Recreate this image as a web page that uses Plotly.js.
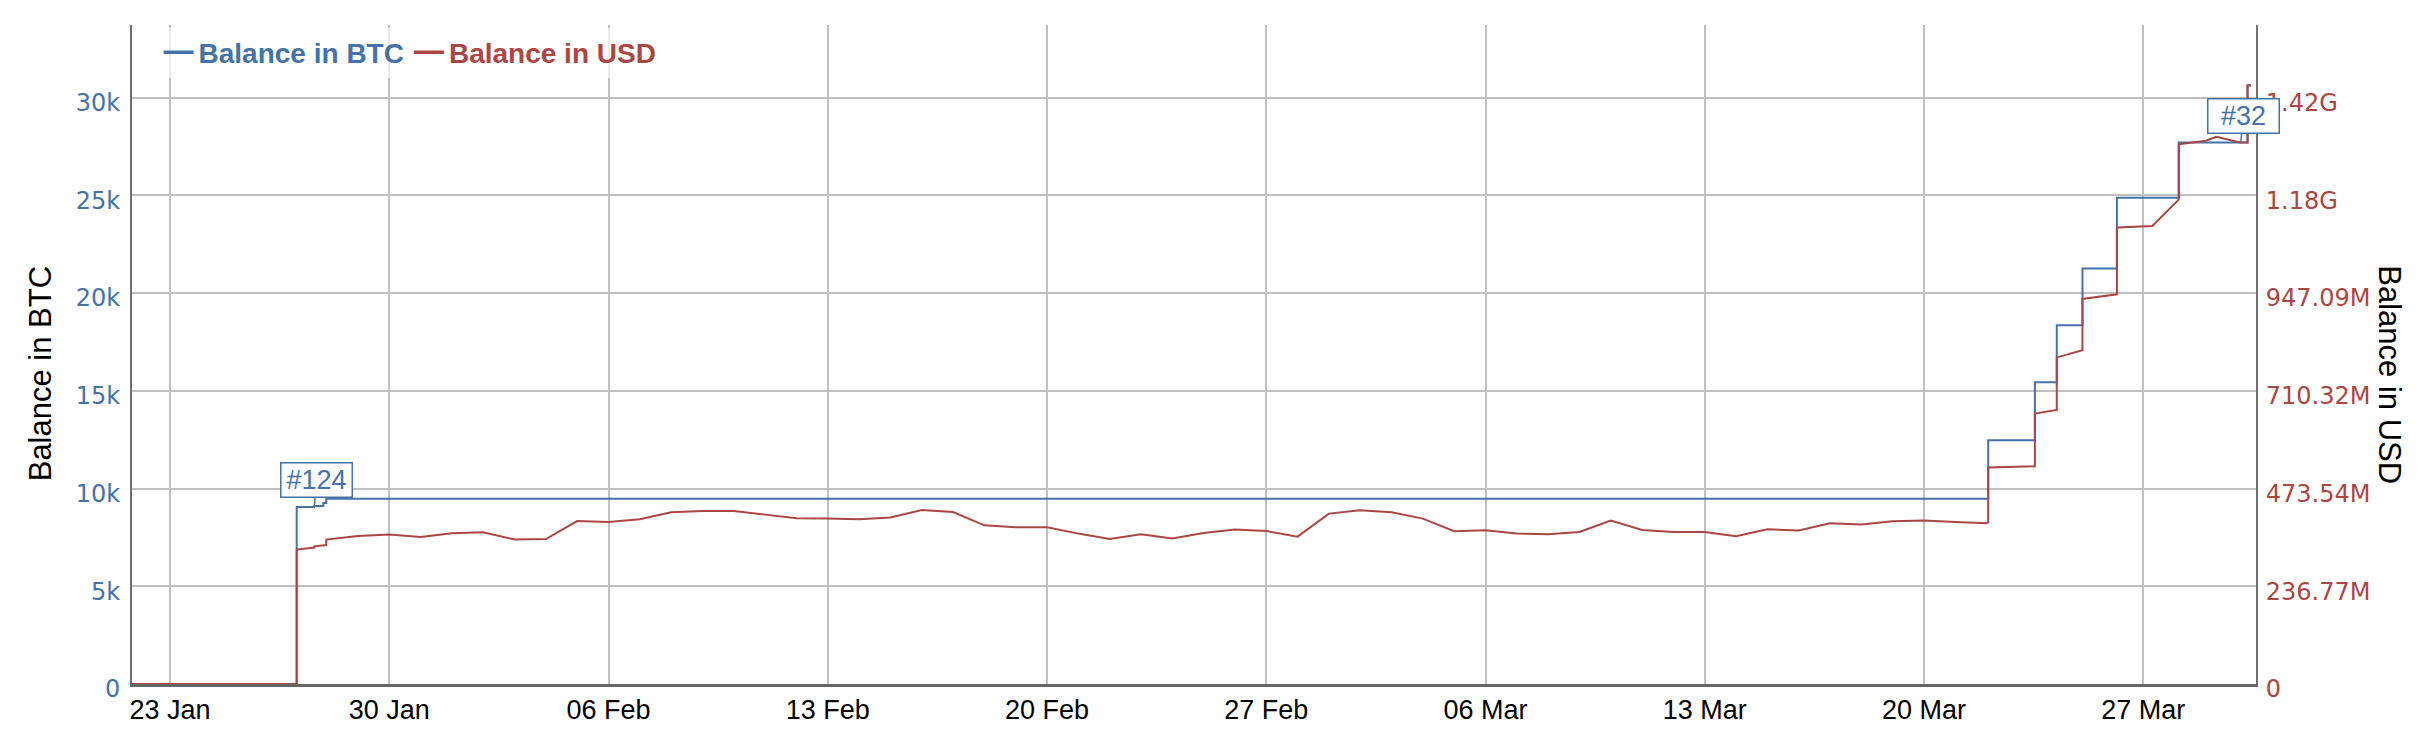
<!DOCTYPE html>
<html>
<head>
<meta charset="utf-8">
<script src="https://cdn.plot.ly/plotly-3.0.1.min.js"></script>
<style>html,body{margin:0;padding:0;background:#fff}#chart{width:2436px;height:736px}</style>
</head>
<body>
<div id="chart"></div>
<script>
// ---- data ----
const btcTime = ['2022-01-21 19:00','2022-01-27 01:05','2022-01-27 14:34','2022-01-27 21:29','2022-01-27 23:46',
  '2022-03-22 01:12','2022-03-23 12:58','2022-03-24 05:45','2022-03-25 01:26','2022-03-26 03:50',
  '2022-03-28 03:12','2022-03-30 07:55','2022-03-30 10:35'];
const btcBalance = [0, 9050, 9100, 9260, 9480, 12470, 15430, 18350, 21250, 24870, 27700, 30620, 30620];

const usdTime = ['2022-01-21 19:00','2022-01-27 01:05','2022-01-27 01:05','2022-01-27 14:34','2022-01-27 14:34',
  '2022-01-27 21:29','2022-01-27 23:46','2022-01-27 23:46','2022-01-29','2022-01-30','2022-01-31',
  '2022-02-01','2022-02-02','2022-02-03','2022-02-04','2022-02-05','2022-02-06','2022-02-07','2022-02-08',
  '2022-02-09','2022-02-10','2022-02-11','2022-02-12','2022-02-13','2022-02-14','2022-02-15','2022-02-16',
  '2022-02-17','2022-02-18','2022-02-19','2022-02-20','2022-02-21','2022-02-22','2022-02-23','2022-02-24',
  '2022-02-25','2022-02-26','2022-02-27','2022-02-28','2022-03-01','2022-03-02','2022-03-03','2022-03-04',
  '2022-03-05','2022-03-06','2022-03-07','2022-03-08','2022-03-09','2022-03-10','2022-03-11','2022-03-12',
  '2022-03-13','2022-03-14','2022-03-15','2022-03-16','2022-03-17','2022-03-18','2022-03-19','2022-03-20',
  '2022-03-21','2022-03-22 00:00','2022-03-22 01:12','2022-03-22 01:12','2022-03-23 12:58','2022-03-23 12:58',
  '2022-03-24 05:45','2022-03-24 05:45','2022-03-25 01:26','2022-03-25 01:26','2022-03-26 03:50','2022-03-26 03:50',
  '2022-03-27 06:58','2022-03-28 03:12','2022-03-28 03:12','2022-03-29 00:00','2022-03-29 08:00',
  '2022-03-30 02:10','2022-03-30 07:55','2022-03-30 07:55','2022-03-30 10:35'];
const usdBalanceM = [0,0,325.5,330.4,333.5,336.0,336.5,349.8,358.5,361.9,356.1,
  365.0,367.4,349.8,351.2,394.8,392.4,398.9,415.9,
  419.0,419.0,410.3,401.4,400.6,398.9,403.1,421.5,
  416.6,384.4,379.6,379.6,364.3,351.2,362.6,352.2,
  365.8,374.0,370.6,357.0,412.7,420.7,415.9,400.6,
  369.9,372.3,364.3,362.6,368.2,395.8,373.0,368.2,
  368.2,357.8,374.7,371.6,389.3,386.1,394.1,395.8,
  392.4,389.3,391.7,524.6,527.3,655.2,
  663.9,791.1,808.3,932.8,943.9,1106.0,
  1109.4,1173.3,1307.3,1316.0,1325.7,
  1311.9,1311.9,1450.2,1450.2];
const usdBalance = usdBalanceM.map(v => v * 1e6);

const usdTickVals = [0, 236.77e6, 473.54e6, 710.32e6, 947.09e6, 1183.86e6, 1420.63e6];
const usdTickText = ['0','236.77M','473.54M','710.32M','947.09M','1.18G','1.42G'];

const seriesNames = ['Balance in BTC', 'Balance in USD'];
const flagLabels = ['#124', '#32'];
const flagTime = ['2022-01-27 14:34', '2022-03-30 02:44'];
const flagBalance = [9100, 27700];

// ---- style ----
const BLUE = '#4572A7', RED = '#AA4643';
const btcMax = 33710, usdPerBtcAxis = 47354;
const SANS = 'Liberation Sans, Arial, sans-serif';
const legendName = (txt, c) => '<b><span style="color:' + c + '">' + txt + '</span></b>';

const traces = [
  {x: btcTime, y: btcBalance, type: 'scatter', mode: 'lines', line: {color: BLUE, width: 2, shape: 'hv'},
   name: seriesNames[0], yaxis: 'y', showlegend: false},
  {x: usdTime, y: usdBalance, type: 'scatter', mode: 'lines', line: {color: RED, width: 2},
   name: seriesNames[1], yaxis: 'y2', showlegend: false},
  // legend entries (thicker legend line, as in the original)
  {x: [null], y: [null], type: 'scatter', mode: 'lines', line: {color: BLUE, width: 3.5},
   name: legendName(seriesNames[0], BLUE), yaxis: 'y', showlegend: true},
  {x: [null], y: [null], type: 'scatter', mode: 'lines', line: {color: RED, width: 3.5},
   name: legendName(seriesNames[1], RED), yaxis: 'y2', showlegend: true}
];

const annFont = {family: SANS, size: 27, color: BLUE};
const annotations = flagLabels.map((t, i) => ({
  text: t, x: flagTime[i], y: flagBalance[i], xref: 'x', yref: 'y',
  showarrow: true, arrowhead: 0, arrowwidth: 1.5, arrowcolor: BLUE, ax: 2.5, ay: -26.5, standoff: 0,
  bgcolor: '#ffffff', bordercolor: BLUE, borderwidth: 1.5, borderpad: 2, width: 66, height: 29,
  font: annFont
}));
annotations.push({text: 'Balance in BTC', xref: 'paper', yref: 'paper', x: -0.0433, y: 0.47,
  xanchor: 'center', yanchor: 'middle', textangle: -90, showarrow: false,
  font: {family: SANS, size: 31, color: '#000'}});
annotations.push({text: 'Balance in USD', xref: 'paper', yref: 'paper', x: 1.0631, y: 0.47,
  xanchor: 'center', yanchor: 'middle', textangle: 90, showarrow: false,
  font: {family: SANS, size: 31, color: '#000'}});

const layout = {
  width: 2436, height: 736,
  margin: {l: 132, r: 180, t: 25, b: 52, pad: 0, autoexpand: false},
  paper_bgcolor: '#fff', plot_bgcolor: '#fff',
  showlegend: true,
  legend: {orientation: 'h', x: 0.0125, y: 0.996, xref: 'paper', yref: 'paper',
    xanchor: 'left', yanchor: 'top', bgcolor: 'rgba(255,255,255,0.65)', borderwidth: 0,
    font: {family: SANS, size: 28, color: '#333'}},
  xaxis: {type: 'date', range: ['2022-01-21 18:53', '2022-03-30 14:24'],
    tick0: '2022-01-23', dtick: 7 * 86400000, tickformat: '%d %b',
    showgrid: true, gridcolor: '#C0C0C0', gridwidth: 2, zeroline: false,
    showline: true, linecolor: '#666', linewidth: 3, ticks: '', automargin: false,
    tickfont: {family: SANS, size: 27, color: '#000'}, ticklabelstandoff: 0},
  yaxis: {range: [0, btcMax], dtick: 5000, tickformat: '~s', showgrid: true, gridcolor: '#C0C0C0', gridwidth: 2,
    zeroline: false, showline: true, linecolor: '#707070', linewidth: 2, ticks: '', automargin: false,
    tickfont: {family: 'DejaVu Sans, sans-serif', size: 24, color: BLUE}, ticklabelstandoff: 5, ticklabelshift: 5},
  yaxis2: {overlaying: 'y', side: 'right', range: [0, btcMax * usdPerBtcAxis], tickvals: usdTickVals, ticktext: usdTickText,
    showgrid: false, zeroline: false, showline: true, linecolor: '#707070', linewidth: 2, ticks: '', automargin: false,
    tickfont: {family: 'DejaVu Sans, sans-serif', size: 24, color: RED}, ticklabelstandoff: 3, ticklabelshift: 5},
  annotations: annotations
};

Plotly.newPlot('chart', traces, layout, {staticPlot: true, displayModeBar: false});
</script>
</body>
</html>
